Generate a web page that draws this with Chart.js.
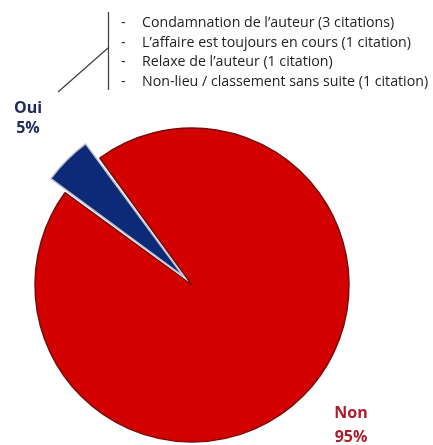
<!DOCTYPE html>
<html>
<head>
<meta charset="utf-8">
<script src="https://cdn.jsdelivr.net/npm/chart.js@4.4.0/dist/chart.umd.min.js"></script>
<style>
html,body{margin:0;padding:0;background:#fff;}
#wrap{width:433px;height:445px;position:relative;}
</style>
</head>
<body>
<div id="wrap"><canvas id="c" width="433" height="445"></canvas></div>
<script>
const categories = ["Oui", "Non"];
const values = [5, 95];
const pctLabels = ["5%", "95%"];
const noteLines = [
  "Condamnation de l\u2019auteur (3 citations)",
  "L\u2019affaire est toujours en cours (1 citation)",
  "Relaxe de l\u2019auteur (1 citation)",
  "Non-lieu / classement sans suite (1 citation)"
];

const annot = {
  id: 'annot',
  afterDraw(chart) {
    const ctx = chart.ctx;
    ctx.save();
    // bracket lines
    ctx.strokeStyle = '#444';
    ctx.lineWidth = 1.3;
    ctx.beginPath();
    ctx.moveTo(108.5, 12); ctx.lineTo(108.5, 90);
    ctx.moveTo(58, 92); ctx.lineTo(108, 48);
    ctx.stroke();
    // note text
    ctx.fillStyle = '#222';
    ctx.textBaseline = 'middle';
    ctx.textAlign = 'left';
    ctx.font = '14.2px "Open Sans"';
    const ys = [23, 43, 62, 82];
    noteLines.forEach((t, i) => {
      ctx.fillText('-', 121, ys[i]);
      ctx.fillText(t, 142, ys[i]);
    });
    // category labels
    ctx.textAlign = 'center';
    ctx.font = 'bold 16px "Open Sans"';
    ctx.fillStyle = '#1c2a5c';
    ctx.fillText(categories[0], 28, 108);
    ctx.fillText(pctLabels[0], 28, 128);
    ctx.fillStyle = '#b01c2c';
    ctx.fillText(categories[1], 351, 413);
    ctx.fillText(pctLabels[1], 351, 437);
    ctx.restore();
  }
};

new Chart(document.getElementById('c'), {
  type: 'pie',
  data: {
    labels: categories,
    datasets: [{
      data: values,
      backgroundColor: ['#0c2a78', '#d30000'],
      borderColor: ['#c0c0c8', '#7a0c0c'],
      borderWidth: [1.5, 1.5],
      offset: [47, 0]
    }]
  },
  options: {
    responsive: false,
    animation: false,
    rotation: -54,
    radius: 157,
    layout: { padding: { left: 0, right: 49, top: 125, bottom: 0 } },
    plugins: { legend: { display: false }, tooltip: { enabled: false } }
  },
  plugins: [annot]
});
</script>
</body>
</html>
